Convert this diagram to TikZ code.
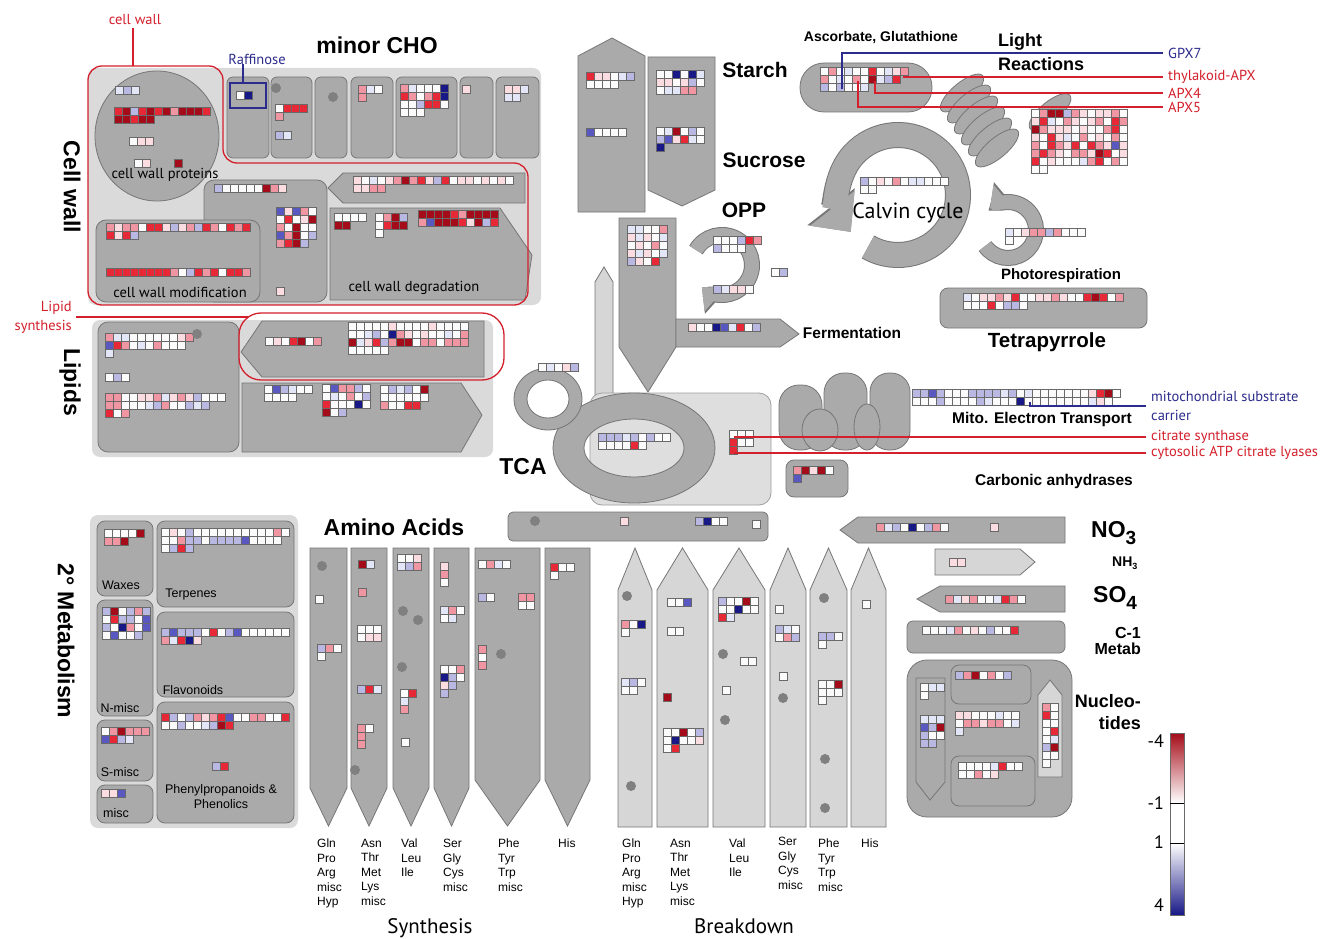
\documentclass[tikz,border=0pt]{standalone}
\usepackage{fontspec}
\setmainfont{Liberation Sans}
\newfontfamily\myr{PT Sans}
\usetikzlibrary{arrows.meta}
\definecolor{boxg}{RGB}{170,170,170}
\definecolor{boxd}{RGB}{118,118,118}
\definecolor{bgl}{RGB}{218,218,218}
\definecolor{lcol}{RGB}{214,214,214}
\definecolor{tcab}{RGB}{222,222,222}
\definecolor{cellb}{RGB}{105,105,105}
\definecolor{dotc}{RGB}{128,128,128}
\definecolor{redl}{RGB}{212,32,44}
\definecolor{bluel}{RGB}{44,44,140}
\definecolor{hw}{RGB}{252,251,251}
\definecolor{hp}{RGB}{250,220,225}
\definecolor{hq}{RGB}{240,150,162}
\definecolor{hr}{RGB}{230,40,55}
\definecolor{hd}{RGB}{165,12,25}
\definecolor{hc}{RGB}{226,230,247}
\definecolor{hl}{RGB}{184,184,226}
\definecolor{hb}{RGB}{88,88,192}
\definecolor{hn}{RGB}{24,24,135}
\newcommand\fs[2]{\fontsize{#1}{#2}\selectfont}
\newcommand\hm[3]{\foreach \rw [count=\j from 0] in {#3}{\foreach \c [count=\i from 0] in \rw {\path[hcell,fill=h\c] ({#1+8*\i},{#2+8*\j}) rectangle ++(8,8);}}}
\newcommand\hdt[2]{\fill[dotc] (#1,#2) circle (5);}
\tikzset{
  shp/.style={fill=boxg,draw=boxd,line width=0.8pt},
  lshp/.style={fill=lcol,draw=boxd,line width=0.8pt},
  panel/.style={fill=bgl,rounded corners=8pt},
  hcell/.style={draw=cellb,line width=0.9pt},
  redln/.style={draw=redl,line width=1.3pt},
  blueln/.style={draw=bluel,line width=1.3pt},
  lbl/.style={inner sep=0pt},
  rlab/.style={inner xsep=5pt,inner ysep=0pt,anchor=west,font=\myr\fs{14.5}{16}},
  collab/.style={inner sep=0pt,anchor=north west,align=left,font=\fs{12}{14.5}},
  sublab/.style={inner sep=0pt,font=\fs{12.5}{15}},
}
\begin{document}
\begin{tikzpicture}[x=1pt,y=-1pt]
\useasboundingbox (0,0) rectangle (1334,939);
\fill[white] (0,0) rectangle (1334,939);

% ================= Cell wall / minor CHO =================
\path[panel] (88,68) rectangle (541,305);
\path[shp] (157,136) ellipse (62 and 65);
\foreach \a/\b in {227/269,271/312,315/347,351/393,396/457,460/493,496/539}
  \path[shp,rounded corners=6pt] (\a,77) rectangle (\b,158);
\path[shp,rounded corners=10pt] (204,180) rectangle (327,302);
\path[shp,rounded corners=10pt] (96,220) rectangle (260,302);
\path[shp] (328,188) -- (343,173) -- (525,173) -- (525,203) -- (343,203) -- cycle;
\path[shp] (330,208) -- (500,208) -- (532,255) -- (525,300) -- (330,300) -- cycle;

\hm{115}{86}{{c,l,c}}
\hm{114}{107}{{r,d,l,r,d,r,d,q,d,d,d,r},{d,d,r,d,d}}
\hm{129}{137}{{w,p,p}}
\hm{134}{159}{{w,p}}
\hm{174}{159}{{d}}
\hm{214}{184}{{l,w,w,w,w,w,d,q,p}}
\hm{276}{207}{{b,p,b,q,w},{w,r,w,p,d},{q,w,d,w,w},{b,q,d,w,l},{q,r,d,l}}
\hm{106}{223}{{q,p,q,q,w,r,r,p,l,p,q,l,r,q,w,r,q,r},{r,p,r,l}}
\hm{106}{268}{{r,r,r,r,r,r,r,r,q,w,l,r,q,r,w,r,r,q}}
\hm{276}{287}{{p}}
\hm{353}{176}{{p,w,c,w,p,q,d,q,r,p,l,r,w,p,p,w,p,w,p,w},{p,p,q,q}}
\hm{334}{213}{{w,w,w,w},{d,d}}
\hm{375}{213}{{w,q,d,l},{w,r,d,d},{w}}
\hm{418}{210}{{d,d,d,d,r,q,d,d,d,d},{q,b,d,d,d,r,p,d,l,r}}

\hm{236}{91}{{w,n}}
\hdt{276}{88}
\hm{275}{104}{{w,r,r,r},{q}}
\hm{275}{131}{{l,c}}
\hdt{333}{97}
\hm{358}{85}{{q,c,w},{q}}
\hm{400}{84}{{q,c,w,w,w,n},{r,q,w,q,r,n},{w,w,l,r,r,w},{w,w,w}}
\hm{462}{85}{{p}}
\hm{504}{85}{{p,p,c},{c,c}}

\draw[bluel,line width=1.3pt] (230,83) rectangle (266,108);
\node[lbl,font=\myr\fs{14.5}{16},text=bluel] (raf) at (257,59) {Raffinose};
\coordinate (rafc) at (243,83);
\draw[blueln] (rafc |- raf.south) -- (rafc);

\draw[redln,rounded corners=14pt] (88,66) -- (223,66) -- (223,163) -- (528,163) -- (528,305) -- (88,305) -- cycle;
\node[lbl,font=\myr\fs{14.5}{16},text=redl] (cwl) at (135,20) {cell wall};
\coordinate (cwtop) at (133,66);
\draw[redln] (cwtop |- cwl.south) ++(0,3) -- (cwtop);

\node[lbl,font=\bfseries\fs{23}{26}] (tminor) at (377,45) {minor CHO};
\node[lbl,font=\bfseries\fs{23}{26},rotate=-90] (tcw) at (72,187) {Cell wall};
\node[lbl,font=\myr\fs{14.5}{16}] (tcwp) at (165,175) {cell wall proteins};
\node[lbl,font=\myr\fs{14.5}{16}] (tcwm) at (180,292) {cell wall modification};
\node[lbl,font=\myr\fs{14.5}{16}] (tcwd) at (414,288) {cell wall degradation};

% ================= Lipids =================
\path[panel] (92,320) rectangle (493,457);
\path[shp,rounded corners=10pt] (98,322) rectangle (239,452);
\path[shp] (241,352) -- (262,321) -- (484,321) -- (484,377) -- (262,377) -- cycle;
\path[shp] (242,383) -- (461,383) -- (482,415) -- (461,452) -- (242,452) -- cycle;
\hm{105}{333}{{q,c,c,w,w,w,w,w,w,p,q},{b,r,q,w,c,w,q,w,w,w},{c}}
\hdt{197}{334}
\hm{105}{373}{{w,l,w}}
\hm{105}{393}{{q,q,w,w,p,p,q,c,p,q,p,l,w,w,w},{q,q,w,w,w,c,l,q,w,w,l,c,l},{r,w,q}}
\hm{265}{337}{{w,p,w,r,d,w,q}}
\hm{348}{322}{{w,w,w,w,w,p,w,w,w,w,p,w,w,w,w},{w,w,c,l,w,n,q,p,w,p,w,w,c,w,q},{d,c,p,r,l,q,d,d,w,q,q,w,q,q,q},{w,w,w,w,w}}
\hm{264}{385}{{w,b,l,c,w,w},{w,w,w,w}}
\hm{322}{384}{{w,b,q,q,l,w},{w,c,w,q,w,l},{r,w,w,w,n,w},{d,w,l}}
\hm{380}{385}{{w,l,c,l,w,d},{w,w,w,w,w,w},{q,w,w,r,r}}
\draw[redln,rounded corners=22pt] (239,313) rectangle (504,380);
\node[lbl,inner xsep=4pt,anchor=east,align=right,font=\myr\fs{14.5}{19},text=redl] (lip) at (76,317) {Lipid\\synthesis};
\coordinate (lipc) at (248,317);
\draw[redln] (lip.east) -- (lipc);
\node[lbl,font=\bfseries\fs{23}{26},rotate=-90] (tlip) at (70,382) {Lipids};

% ================= Starch / Sucrose / glycolysis =================
\path[shp] (578,212) -- (578,56) -- (612,38) -- (645,56) -- (645,212) -- cycle;
\path[shp] (648,57) -- (715,57) -- (715,190) -- (682,206) -- (648,190) -- cycle;
\hm{586}{72}{{r,p,p,w,c,l},{w,w,w,w}}
\hm{586}{128}{{b,w,w,w,w}}
\hm{656}{70}{{w,w,n,w,n,c},{p,p,w,p,l,w},{w,c,c,q,q}}
\hm{656}{127}{{w,c,d,w,l,w},{l,b,p,r,c,w},{n}}
\node[lbl,font=\bfseries\fs{21}{24}] (tstarch) at (755,70) {Starch};
\node[lbl,font=\bfseries\fs{21}{24}] (tsuc) at (764,160) {Sucrose};
\node[lbl,font=\bfseries\fs{21}{24}] (topp) at (744,210) {OPP};

\path[lshp] (595,405) -- (595,282) -- (604,267) -- (613,282) -- (613,405) -- cycle;
\path[fill=tcab,draw=boxd!70,line width=0.8pt,rounded corners=12pt] (590,393) rectangle (771,505);
\path[shp,even odd rule] (634,448) ellipse (81 and 55) (634,448) ellipse (50 and 29);
\path[shp] (619,218) -- (676,218) -- (676,347) -- (648,392) -- (619,347) -- cycle;
\path[shp] (676,319) -- (780,319) -- (799,334) -- (780,347) -- (676,347) -- cycle;
\path[boxg] (675,320) rectangle (677,346);
\hm{627}{225}{{c,c,w,w,q},{p,c,p,w,c},{w,p,w,q,w},{p,c,p,w,c},{l,p,w,r}}
\hm{688}{323}{{p,w,w,n,b,c,r,w,l}}
\node[lbl,font=\bfseries\fs{15.5}{18}] (tferm) at (852,333) {Fermentation};

% OPP curved arrow
\draw[boxd,line width=16pt,-{Triangle[width=34pt,length=20pt]}] (722,265) ++(-150:30) arc[start angle=-150,end angle=132,radius=30];
\draw[boxg,line width=14pt,-{Triangle[width=31pt,length=18pt]}] (722,265) ++(-150:30) arc[start angle=-150,end angle=132,radius=30];
\hm{713}{236}{{w,w,w,l,r,q},{l,w,w,w}}
\hm{713}{285}{{l,c,p,p,w}}
\hm{771}{268}{{w,l}}

% small ring and TCA
\path[shp,even odd rule] (548,399) ellipse (34 and 31) (548,399) ellipse (21 and 19);
\hm{538}{363}{{w,c,w,p,l}}
\hm{598}{433}{{l,l,l,c,l,w,l,w,w},{w,w,w,w,r,w}}
\hm{729}{430}{{w,w,w},{r,w,w},{r}}
\node[lbl,font=\bfseries\fs{23}{26}] (ttca) at (523,467) {TCA};

% ================= Light reactions / Calvin =================
\path[shp,rounded corners=24pt] (800,63) rectangle (932,112);
\hm{820}{67}{{w,q,w,c,w,w,r,w,c,p,q},{q,w,c,w,q,w,d,c,l,r},{l,w,l,w,w,c}}
\node[lbl,font=\bfseries\fs{14}{16}] (tasc) at (881,38) {Ascorbate, Glutathione};
\node[lbl,anchor=west,font=\bfseries\fs{18}{20}] (tlight) at (998,42) {Light};
\node[lbl,anchor=west,font=\bfseries\fs{18}{20}] (treac) at (998,64) {Reactions};

\path[shp,rotate around={40:(1050,112)}] (1050,112) ellipse (26 and 10);
\foreach \k in {0,...,5}
  \path[shp,rotate around={40:({962+7*\k},{93+11*\k})}] ({962+7*\k},{93+11*\k}) ellipse (27 and 10);
\hm{1031}{109}{{w,q,d,d,l,q,p,w,p,p,q,w},{p,r,c,w,q,p,w,p,q,w,r,q},{d,q,p,p,p,w,p,w,w,q,r,w},{p,w,r,p,c,w,q,w,p,w,q,w},{q,w,r,q,p,r,w,r,q,p,b,p},{q,r,q,p,w,q,q,p,d,r,w,p},{r,w,p,w,w,w,c,q,r,w,q,w},{w,w}}

% Calvin ring
\draw[boxd,line width=26pt,-{Triangle[width=58pt,length=32pt]}] (898,195) ++(-240:60) arc[start angle=-240,end angle=-578,radius=60];
\draw[boxg,line width=24pt,-{Triangle[width=55pt,length=30pt]}] (898,195) ++(-240:60) arc[start angle=-240,end angle=-578,radius=60];
\hm{860}{177}{{l,w,p,w,q,w,c,c,w,w,w},{w,w}}
\node[lbl,font=\myr\fs{22}{24}] (tcalvin) at (908,213) {Calvin cycle};

% Photorespiration arrow
\draw[boxd,line width=16pt,-{Triangle[width=34pt,length=20pt]}] (1008,230) ++(-215:28) arc[start angle=-215,end angle=-490,radius=28];
\draw[boxg,line width=14pt,-{Triangle[width=31pt,length=18pt]}] (1008,230) ++(-215:28) arc[start angle=-215,end angle=-490,radius=28];
\hm{1005}{228}{{c,w,p,q,q,l,q,w,w,w},{w}}
\node[lbl,font=\bfseries\fs{15}{18}] (tphoto) at (1061,276) {Photorespiration};

\path[shp,rounded corners=8pt] (940,288) rectangle (1147,328);
\hm{963}{293}{{c,w,p,p,q,p,r,w,w,p,p,q,p,w,w,r,d,r,w,q},{w,w,w,r,w,l,l,w}}
\node[lbl,font=\bfseries\fs{20.5}{24}] (ttetra) at (1047,342) {Tetrapyrrole};

% right labels top
\node[rlab,text=bluel] (gpx) at (1163,53) {GPX7};
\node[rlab,text=redl] (thy) at (1163,77) {thylakoid-APX};
\node[rlab,text=redl] (apx4) at (1163,93) {APX4};
\node[rlab,text=redl] (apx5) at (1163,107) {APX5};
\coordinate (gpxc) at (842,89);
\coordinate (thyc) at (903,77);
\coordinate (apx4c) at (875,81);
\coordinate (apx5c) at (858,81);
\draw[blueln] (gpxc) |- (gpx.west);
\draw[redln] (thyc) -- (thy.west);
\draw[redln] (apx4c) |- (apx4.west);
\draw[redln] (apx5c) |- (apx5.west);

% ================= Mito =================
\path[shp,rounded corners=20pt] (779,385) rectangle (822,450);
\path[shp,rounded corners=20pt] (824,373) rectangle (867,450);
\path[shp,rounded corners=19pt] (870,373) rectangle (910,450);
\path[shp] (820,430) ellipse (18 and 21);
\path[shp] (867,427) ellipse (13 and 23);
\hm{912}{389}{{l,l,b,l,w,w,w,l,l,l,l,c,l,w,c,w,w,w,w,w,w,w,p,r,d,w},{w,w,w,l,w,w,w,w,l,c,w,w,w,n,w,w,w,w,w,w,w,w,c,p,w}}
\node[lbl,font=\bfseries\fs{15.5}{18}] (tmito) at (1042,419) {Mito. Electron Transport};
\path[shp,rounded corners=8pt] (786,460) rectangle (848,497);
\hm{793}{466}{{q,d,p,d,w},{b}}
\node[lbl,font=\bfseries\fs{15.5}{18}] (tcarb) at (1054,481) {Carbonic anhydrases};

\node[rlab,align=left,font=\myr\fs{14.5}{19},text=bluel] (mc) at (1146,406) {mitochondrial substrate\\carrier};
\node[rlab,text=redl] (cs) at (1146,437) {citrate synthase};
\node[rlab,text=redl] (ca) at (1146,453) {cytosolic ATP citrate lyases};
\coordinate (mcc) at (1030,402);
\coordinate (csc) at (734,437);
\coordinate (cac) at (734,453);
\draw[blueln] (mcc) |- (mc.west);
\draw[redln] (csc) -- (cs.west);
\draw[redln] (cac) -- (ca.west);

% ================= 2nd metabolism =================
\path[panel] (90,515) rectangle (298,828);
\foreach \a/\b/\cc/\d in {97/521/153/596,157/521/294/607,97/600/153/716,157/612/294/697,97/720/153/781,97/785/153/823,157/702/294/823}
  \path[shp,rounded corners=8pt] (\a,\b) rectangle (\cc,\d);
\hm{104}{529}{{w,w,w,w,d},{q,q,d}}
\hm{161}{528}{{w,p,w,l,w,w,w,w,w,w,w,w,w,w,q,w},{w,w,q,l,l,w,l,l,l,l,b,w,w,w,w},{w,l,r,l}}
\hm{102}{607}{{l,d,w,l,q,l},{w,r,l,l,w,b},{l,w,n,q,w,b},{w,b,w,w,l}}
\hm{161}{628}{{l,b,l,l,l,w,r,w,l,b,w,w,w,w,w,w},{q,c,r,n,p}}
\hm{101}{727}{{w,q,d,q,q,q},{b,r,l,c}}
\hm{101}{789}{{p,p,b}}
\hm{161}{713}{{r,l,w,l,q,p,q,r,b,w,w,q,q,w,w,r},{w,w,l,w,w,c,l,d,r}}
\hm{212}{762}{{l,r}}
\node[sublab] (twax) at (121,585) {Waxes};
\node[sublab] (tterp) at (191,594) {Terpenes};
\node[sublab] (tnm) at (120,708) {N-misc};
\node[sublab] (tflav) at (193,690) {Flavonoids};
\node[sublab] (tsm) at (120,772) {S-misc};
\node[sublab] (tmisc) at (116,813) {misc};
\node[sublab,align=center] (tphen) at (221,797) {Phenylpropanoids \&\\Phenolics};
\node[lbl,font=\bfseries\fs{23}{26},rotate=-90] (tsec) at (66,641) {2° Metabolism};

% ================= Amino acids =================
\node[lbl,font=\bfseries\fs{23}{26}] (taa) at (394,527) {Amino Acids};
\path[shp,rounded corners=5pt] (508,512) rectangle (768,541);
\hdt{535}{521}
\hm{620}{517}{{p}}
\hm{695}{517}{{l,n,w,w}}
\hm{752}{520}{{w}}
\foreach \a/\b/\s in {310/347/788,351/387/788,393/429/788,434/469/788,475/540/780,545/590/780}
  \path[shp] (\a,548) -- (\b,548) -- (\b,\s) -- ({(\a+\b)/2},826) -- (\a,\s) -- cycle;
\foreach \a/\b in {618/652,657/708,713/765,770/806,810/847,851/886}
  \path[lshp] (\a,827) -- (\a,590) -- ({(\a+\b)/2},548) -- (\b,590) -- (\b,827) -- cycle;
% synthesis content
\hdt{322}{566}
\hm{315}{595}{{w}}
\hm{317}{644}{{l,q,w},{w}}
\hm{358}{560}{{d,c}}
\hm{358}{588}{{q}}
\hm{357}{625}{{w,w,w},{w,p,p}}
\hm{357}{685}{{l,r,c}}
\hm{357}{724}{{q,w},{q},{q}}
\hdt{355}{770}
\hm{397}{554}{{w,w,p},{c,l,q}}
\hdt{403}{611}
\hdt{418}{620}
\hdt{402}{667}
\hm{400}{689}{{w,r},{c},{q}}
\hm{401}{738}{{w}}
\hm{440}{562}{{p},{q},{w}}
\hm{440}{606}{{c,q,w},{w,c}}
\hm{440}{665}{{w,w,q},{n,l,w},{p,l},{l}}
\hm{478}{560}{{w,q,c,w}}
\hm{478}{593}{{l,w}}
\hm{518}{593}{{q,q},{w,w}}
\hm{478}{645}{{q},{w},{q}}
\hdt{501}{654}
\hm{550}{563}{{r,w,w},{w}}
% breakdown content
\hdt{627}{596}
\hm{621}{620}{{q,w,n},{w}}
\hm{621}{678}{{c,l,w},{w,w}}
\hdt{631}{786}
\hm{667}{598}{{w,w,b}}
\hm{667}{627}{{w,w}}
\hm{663}{693}{{d}}
\hm{663}{728}{{w,w,d,w,l},{w,n,w,w,p},{w,r}}
\hm{718}{597}{{l,w,w,d,w},{w,w,n,w,w},{r,c}}
\hdt{723}{654}
\hm{740}{657}{{w,w}}
\hm{722}{686}{{w}}
\hdt{725}{720}
\hm{775}{605}{{w}}
\hm{775}{625}{{l,c,w},{w,q,l}}
\hm{779}{672}{{w}}
\hdt{783}{698}
\hdt{824}{598}
\hm{818}{632}{{l,l,w},{w}}
\hm{818}{680}{{w,w,d},{w,w,w},{w}}
\hdt{825}{759}
\hdt{825}{808}
\hm{862}{600}{{w}}
% labels
\node[collab] (s1) at (317,839) {Gln\\Pro\\Arg\\misc\\Hyp};
\node[collab] (s2) at (361,839) {Asn\\Thr\\Met\\Lys\\misc};
\node[collab] (s3) at (401,839) {Val\\Leu\\Ile};
\node[collab] (s4) at (443,839) {Ser\\Gly\\Cys\\misc};
\node[collab] (s5) at (498,839) {Phe\\Tyr\\Trp\\misc};
\node[collab] (s6) at (558,839) {His};
\node[collab] (b1) at (622,839) {Gln\\Pro\\Arg\\misc\\Hyp};
\node[collab] (b2) at (670,839) {Asn\\Thr\\Met\\Lys\\misc};
\node[collab] (b3) at (729,839) {Val\\Leu\\Ile};
\node[collab] (b4) at (778,837) {Ser\\Gly\\Cys\\misc};
\node[collab] (b5) at (818,839) {Phe\\Tyr\\Trp\\misc};
\node[collab] (b6) at (861,839) {His};
\node[lbl,font=\myr\fs{21}{24}] (tsyn) at (430,928) {Synthesis};
\node[lbl,font=\myr\fs{21}{24}] (tbrk) at (744,926) {Breakdown};

% ================= N, S, C1, nucleotides =================
\path[shp] (840,530) -- (858,517) -- (1065,517) -- (1065,543) -- (858,543) -- cycle;
\hm{876}{523}{{q,c,l,w,n,w,l,q,w}}
\hm{990}{523}{{p}}
\path[lshp] (935,549) -- (1020,549) -- (1035,562) -- (1020,575) -- (935,575) -- cycle;
\hm{949}{558}{{p,p}}
\path[shp] (917,599) -- (940,586) -- (1065,586) -- (1065,612) -- (940,612) -- cycle;
\hm{945}{595}{{q,c,p,q,w,w,c,r,q,w}}
\path[shp,rounded corners=6pt] (907,621) rectangle (1065,653);
\hm{922}{626}{{w,w,w,c,q,w,p,w,l,w,w,r}}
\path[shp,rounded corners=20pt] (907,660) rectangle (1072,817);
\path[shp] (916,678) -- (945,678) -- (945,782) -- (930,800) -- (916,782) -- cycle;
\path[shp,rounded corners=8pt] (951,665) rectangle (1031,704);
\path[shp,rounded corners=8pt] (951,756) rectangle (1035,806);
\path[lshp] (1038,777) -- (1038,695) -- (1050,680) -- (1062,695) -- (1062,777) -- cycle;
\hm{920}{683}{{w,c,c},{w}}
\hm{920}{715}{{c,c,c},{b,l,d},{l,w,w},{l,l}}
\hm{955}{671}{{l,q,d,w,q,w,l}}
\hm{955}{711}{{p,p,w,w,w,c,w,w},{w,q,q,p,q,q,w,c},{c}}
\hm{958}{762}{{w,w,w,w,c,r,w,w},{w,w,q,w,p}}
\hm{1042}{703}{{q,w},{r,w},{w,w},{w,r},{w,c},{l,d},{w,w},{w}}
\node[lbl,anchor=west,font=\bfseries\fs{23}{26}] (tno) at (1091,533) {NO\raisebox{-7pt}{\fs{19}{20}3}};
\node[lbl,anchor=west,font=\bfseries\fs{14}{16}] (tnh) at (1112,563) {NH\raisebox{-3pt}{\fs{9}{10}3}};
\node[lbl,anchor=west,font=\bfseries\fs{23}{26}] (tso) at (1093,598) {SO\raisebox{-7pt}{\fs{19}{20}4}};
\node[lbl,anchor=east,align=right,font=\bfseries\fs{16}{16}] (tc1) at (1141,641) {C-1\\Metab};
\node[lbl,anchor=east,align=right,font=\bfseries\fs{18}{22}] (tnuc) at (1141,712) {Nucleo-\\tides};

% ================= Legend =================
\shade[top color=hd,middle color=hr,bottom color=white] (1170,733) rectangle (1184,803);
\fill[white] (1170,803) rectangle (1184,843);
\shade[top color=white,middle color=hl,bottom color=hn] (1170,843) rectangle (1184,915);
\draw[cellb,line width=0.8pt] (1170,733) rectangle (1184,915);
\draw[black,line width=0.8pt] (1170,803) -- (1184,803) (1170,843) -- (1184,843);
\node[lbl,anchor=east,font=\myr\fs{18}{20}] (l1) at (1164,741) {-4};
\node[lbl,anchor=east,font=\myr\fs{18}{20}] (l2) at (1164,803) {-1};
\node[lbl,anchor=east,font=\myr\fs{18}{20}] (l3) at (1164,842) {1};
\node[lbl,anchor=east,font=\myr\fs{18}{20}] (l4) at (1164,905) {4};
\end{tikzpicture}
\end{document}
